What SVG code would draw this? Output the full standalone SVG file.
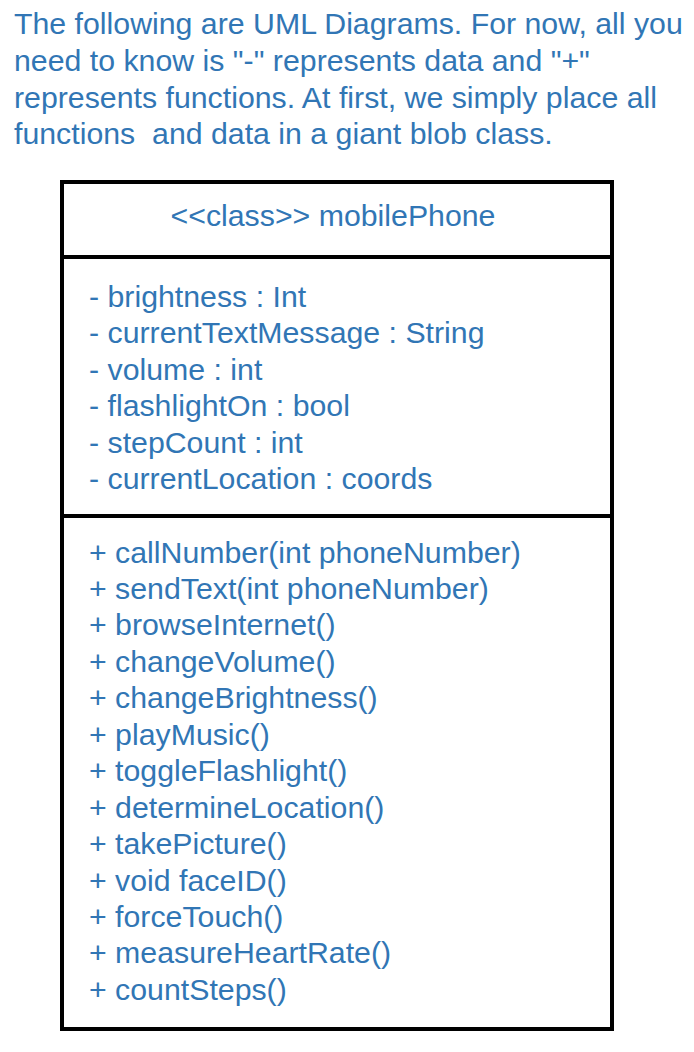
<svg xmlns="http://www.w3.org/2000/svg" width="694" height="1052" viewBox="0 0 694 1052">
<style>
.t{font-family:"Liberation Sans",Arial,sans-serif;font-size:29px;fill:#3176b5}
.box{fill:#fff;stroke:#000;stroke-width:4}
.div{stroke:#000;stroke-width:4}
</style>
<g id="caption" transform="matrix(1.045 0 0 1 -0.63 0)">
<text class="t" x="14" y="34">The following are UML Diagrams. For now, all you</text>
<text class="t" x="14" y="71">need to know is "-" represents data and "+"</text>
<text class="t" x="14" y="108">represents functions. At first, we simply place all</text>
<text class="t" x="14" y="144" xml:space="preserve">functions  and data in a giant blob class.</text>
</g>
<g id="mobilePhone">
<rect class="box" x="62" y="182" width="550" height="847"/>
<line class="div" x1="62" y1="257" x2="612" y2="257"/>
<line class="div" x1="62" y1="516" x2="612" y2="516"/>
<text class="t" x="333" y="226" text-anchor="middle" transform="matrix(1.045 0 0 1 -14.985 0)">&lt;&lt;class&gt;&gt; mobilePhone</text>
<g transform="matrix(1.045 0 0 1 -4.005 0)">
<text class="t" x="89" y="307">- brightness : Int</text>
<text class="t" x="89" y="343">- currentTextMessage : String</text>
<text class="t" x="89" y="380">- volume : int</text>
<text class="t" x="89" y="416">- flashlightOn : bool</text>
<text class="t" x="89" y="453">- stepCount : int</text>
<text class="t" x="89" y="489">- currentLocation : coords</text>
<text class="t" x="89" y="563">+ callNumber(int phoneNumber)</text>
<text class="t" x="89" y="599">+ sendText(int phoneNumber)</text>
<text class="t" x="89" y="635">+ browseInternet()</text>
<text class="t" x="89" y="672">+ changeVolume()</text>
<text class="t" x="89" y="708">+ changeBrightness()</text>
<text class="t" x="89" y="745">+ playMusic()</text>
<text class="t" x="89" y="781">+ toggleFlashlight()</text>
<text class="t" x="89" y="818">+ determineLocation()</text>
<text class="t" x="89" y="854">+ takePicture()</text>
<text class="t" x="89" y="891">+ void faceID()</text>
<text class="t" x="89" y="927">+ forceTouch()</text>
<text class="t" x="89" y="963">+ measureHeartRate()</text>
<text class="t" x="89" y="1000">+ countSteps()</text>
</g>
</g>
</svg>
